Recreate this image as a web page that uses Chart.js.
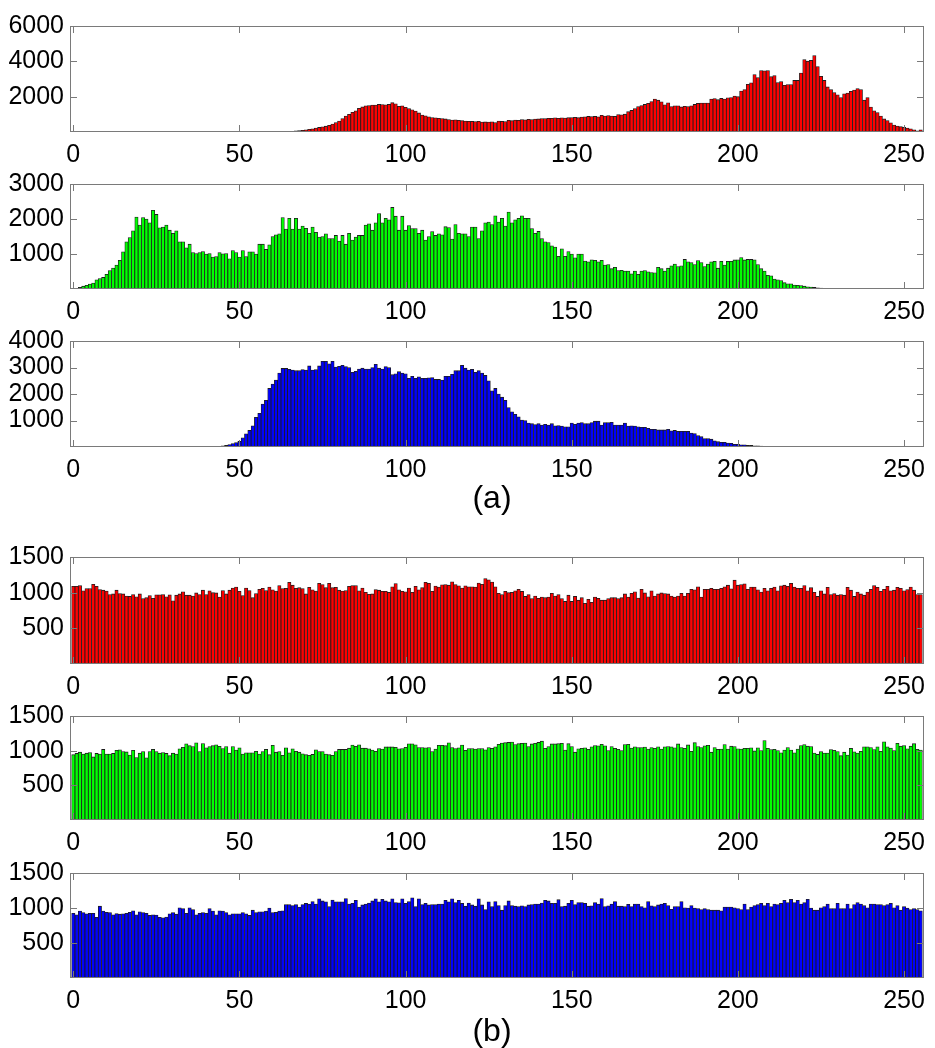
<!DOCTYPE html>
<html>
<head>
<meta charset="utf-8">
<script src="https://cdn.jsdelivr.net/npm/chart.js@4.4.1/dist/chart.umd.min.js"></script>
<style>
  body { margin: 0; background: #fff; width: 935px; height: 1048px; position: relative; overflow: hidden; }
  canvas { position: absolute; left: 0; }
  .cap { position: absolute; font-family: "Liberation Sans", Arial, sans-serif; font-size: 32px; color: #000; transform: translate(-50%, -50%); }
</style>
</head>
<body>
<canvas id="p1"></canvas>
<canvas id="p2"></canvas>
<canvas id="p3"></canvas>
<canvas id="p4"></canvas>
<canvas id="p5"></canvas>
<canvas id="p6"></canvas>
<div class="cap" style="left:492px;top:497px">(a)</div>
<div class="cap" style="left:492px;top:1030px">(b)</div>
<script>
// grey levels 0..255
const bins = Array.from({ length: 256 }, (_, i) => i);
const xTickValues = [0, 50, 100, 150, 200, 250];

// (a) original image histograms
const redA = [
  0,0,0,0,0,0,0,0,0,0,0,0,0,0,0,0,
  0,0,0,0,0,0,0,0,0,0,0,0,0,0,0,0,
  0,0,0,0,0,0,0,0,0,0,0,0,0,0,0,0,
  0,0,0,0,0,0,0,0,0,0,0,0,0,0,0,10,
  20,30,40,60,80,100,120,150,180,220,260,290,330,380,450,540,
  620,760,900,1000,1120,1200,1340,1420,1480,1500,1520,1530,1560,1550,1540,1560,
  1660,1600,1450,1480,1400,1330,1260,1180,1080,960,920,860,820,800,780,760,
  740,700,680,690,660,640,620,610,600,590,600,560,570,560,580,540,
  620,600,590,660,640,680,660,700,690,720,700,730,740,760,760,780,
  770,800,780,800,790,810,820,830,810,850,860,880,870,880,860,950,
  900,930,900,880,990,970,1010,1150,1220,1330,1440,1500,1560,1620,1720,1870,
  1800,1710,1540,1650,1440,1480,1480,1420,1460,1440,1480,1560,1620,1640,1640,1640,
  1860,1890,1830,1900,1860,1940,1950,2040,2000,2320,2400,2700,2780,3250,3080,3480,
  3460,3480,3130,3200,2800,2860,2640,2690,2680,2920,2920,3340,4100,4010,4050,4330,
  3700,3150,2920,2550,2400,2230,2100,1950,2160,2200,2300,2370,2460,2400,1800,1950,
  1415,1200,1100,900,740,650,520,390,340,300,260,220,180,120,70,120
];
const greenA = [
  0,10,45,80,107,140,170,260,300,330,420,525,600,685,820,1060,
  1350,1470,1660,2055,1825,2040,2000,1890,2250,2130,1750,1770,1825,1680,1590,1660,
  1350,1350,1175,1280,1040,1015,1040,1070,1000,1015,910,925,1040,1005,1015,865,
  1100,1040,910,1100,925,1060,1060,1000,1280,1280,1130,1260,1500,1550,1575,2040,
  1710,2020,1710,2020,1710,1800,1735,1590,1770,1620,1485,1500,1575,1440,1440,1530,
  1370,1530,1280,1590,1400,1485,1530,1530,1825,1860,1680,1890,2155,1890,2020,1975,
  2330,2080,1680,2080,1680,1815,1725,1725,1590,1680,1400,1500,1640,1530,1575,1550,
  1780,1755,1425,1840,1590,1575,1575,1500,1770,1770,1440,1660,1890,1910,1840,2090,
  1910,2020,1800,2200,1890,1975,2020,2090,2020,2020,1725,1590,1645,1440,1350,1325,
  1235,1200,935,1150,935,1070,1000,890,1000,1000,800,775,835,820,775,820,
  685,700,580,620,525,535,510,510,435,510,420,510,525,490,470,465,
  620,580,510,595,660,710,640,665,845,775,755,700,810,755,640,710,
  775,790,595,790,685,790,790,830,835,900,830,845,845,835,700,580,
  510,390,375,285,260,240,180,150,150,115,105,100,80,60,55,45,
  35,25,15,15,15,10,10,10,5,10,5,0,0,0,0,0,
  0,0,0,0,0,0,0,0,0,0,0,0,0,0,0,0
];
const blueA = [
  0,0,0,0,0,0,0,0,0,0,0,0,0,0,0,0,
  0,0,0,0,0,0,0,0,0,0,0,0,0,0,0,0,
  0,0,0,0,0,0,0,0,0,0,0,10,20,40,60,95,
  130,170,210,350,495,625,800,1120,1270,1620,1765,2210,2375,2530,2790,2965,
  2965,2930,2905,2880,2880,2920,2905,3060,2905,2920,3060,3235,3235,3140,3235,3020,
  3045,3080,3035,3000,2820,2860,2940,2975,2940,2940,3000,3120,2975,2940,3035,3000,
  2730,2765,2850,2790,2765,2590,2670,2590,2650,2590,2590,2610,2620,2550,2550,2530,
  2670,2670,2740,2880,2880,3080,2975,2905,2930,2820,2880,2790,2700,2500,2120,2210,
  2000,1880,1765,1490,1330,1235,1140,1020,1000,905,880,845,880,825,860,825,
  880,800,810,790,765,765,905,860,905,920,880,880,920,975,975,825,
  920,920,930,825,825,825,905,790,800,790,765,740,740,705,670,670,
  645,645,645,670,610,625,590,590,590,590,530,505,435,390,320,320,
  295,235,200,175,175,150,140,105,105,80,80,60,60,45,45,35,
  20,20,20,20,10,10,0,0,0,0,0,0,0,0,0,0,
  0,0,0,0,0,0,0,0,0,0,0,0,0,0,0,0,
  0,0,0,0,0,0,0,0,0,0,0,0,0,0,0,0
];

// (b) processed image histograms
const redB = [
  1088,1088,1100,1026,1057,1057,1118,1088,1044,1035,1022,974,982,1035,987,982,
  952,947,974,943,982,917,930,960,921,969,969,974,943,969,886,965,
  982,1013,965,965,952,996,974,1035,974,1026,1000,996,939,1031,982,1035,
  1066,1079,1018,960,1066,1031,930,987,1048,1061,1031,1079,1040,1022,1100,1057,
  1061,1145,1105,1061,1070,1057,982,1075,1040,1022,1131,1114,1070,1131,1070,1075,
  1035,1022,1031,1088,1100,1100,1026,1066,1004,978,982,1044,1035,1018,1018,1004,
  1083,1127,1040,1018,1013,1066,1004,1088,1040,1070,1145,1131,1018,1092,1079,1110,
  1114,1105,1153,1114,1096,1066,1096,1083,1083,1079,1136,1118,1197,1180,1149,1083,
  991,974,1018,1000,1004,1026,1048,1018,947,974,917,952,921,939,930,939,
  991,952,974,917,877,965,877,947,895,930,851,908,864,939,921,895,
  895,917,930,930,917,930,982,939,991,1013,925,1048,996,943,1026,952,
  982,996,987,982,952,939,952,991,952,991,1048,1040,1083,939,1048,1048,
  1061,1048,1048,1061,1083,1105,1053,1175,1105,1114,1123,1048,1079,1079,1040,1009,
  1061,1026,1061,1079,1026,1096,1105,1088,1131,1079,1061,1061,1100,1026,1070,1004,
  947,1026,982,1075,974,987,965,974,965,1075,1035,947,1009,982,965,1009,
  1048,1100,1075,1018,1048,1088,1026,1035,1075,1061,1026,1044,1079,1035,974,974
];
const greenB = [
  942,960,978,951,964,973,910,960,951,1018,951,951,960,1004,1013,987,
  982,937,1004,901,964,987,897,987,1018,987,964,973,960,928,964,951,
  1027,1049,1099,1072,1058,1112,987,1103,1040,1058,1072,1085,1063,1031,1058,964,
  1058,1009,1040,951,969,969,969,991,951,987,1018,942,1076,978,987,933,
  1040,969,1027,991,978,955,942,933,946,1013,987,987,951,942,933,987,
  1018,1018,1018,1036,1081,1063,1085,1036,1036,1027,1009,991,1031,1022,1054,1054,
  1054,1049,1027,1031,1049,1099,1099,1085,1045,1045,1040,1045,987,1022,1076,1076,
  1072,1112,1045,1031,1040,1081,1004,1031,1031,1022,1031,1031,1013,1045,1033,1055,
  1092,1110,1115,1119,1124,1087,1101,1106,1110,1060,1097,1106,1119,1137,1033,1060,
  1097,1097,1101,1106,1010,1101,1060,978,1028,1033,1042,1019,1055,1074,1069,1092,
  1069,1001,1060,1033,1019,1001,1087,1092,1037,1055,1046,1046,1051,1024,1046,1033,
  1055,1024,1055,1060,1055,1042,1097,1046,1033,1083,992,1115,1060,1046,1069,1078,
  978,1046,1019,1024,1087,1024,1065,1060,1028,1024,1033,1033,1042,996,1042,1001,
  1147,1033,1015,1019,1001,969,1010,1046,1010,969,1024,1074,1087,1065,1060,965,
  946,987,965,965,1015,1006,987,928,978,937,1033,983,965,992,1055,1055,
  1046,1015,1055,992,1128,1055,1037,1001,1106,1065,1074,1028,1065,1101,1019,1010
];
const blueB = [
  925,903,956,934,916,925,925,868,1026,956,938,934,903,921,912,916,
  925,938,960,903,947,934,925,894,903,899,868,859,872,916,934,912,
  1004,991,925,1004,978,903,925,934,925,991,956,903,960,956,934,903,
  916,916,916,934,916,894,969,934,947,947,956,1000,934,938,956,960,
  1048,1048,1035,1048,1013,1048,1066,1057,1092,1057,1132,1101,1088,1022,1114,1088,
  1088,1088,1136,1057,1066,1110,1013,1044,1057,1070,1101,1132,1088,1123,1101,1088,
  1132,1079,1075,1132,1066,1092,1145,1022,1132,1048,1066,1044,1048,1048,1057,1057,
  1110,1088,1132,1079,1110,1066,1026,1070,1044,1026,1132,1044,978,1088,1022,1092,
  1035,969,1035,1101,1035,1026,1022,1031,1022,1044,1048,1057,1057,1070,1110,1101,
  1066,1066,1119,1022,1026,1066,1110,1048,1079,1079,1066,1026,1031,1079,1057,1136,
  1022,1031,1057,1092,1026,1026,1022,1053,1022,1057,1057,1022,1004,1092,1031,1022,
  1044,1057,1066,1035,982,1022,1022,1092,1004,1000,1035,1000,991,978,991,978,
  969,969,969,960,1013,1013,1013,1004,991,978,1057,978,1013,1035,1048,1066,
  1035,1066,1022,1057,1048,1066,1110,1079,1123,1079,1110,1057,1079,1123,1000,969,
  969,1004,1022,1057,991,991,1066,991,991,1057,991,1048,1079,1057,1035,1004,
  1057,1057,1048,1048,1035,1048,1066,1004,1035,969,1022,1000,978,991,978,960
];

const yTicksRedA = [2000, 4000, 6000];
const yTicksGreenA = [1000, 2000, 3000];
const yTicksBlueA = [1000, 2000, 3000, 4000];
const yTicksB = [500, 1000, 1500];

const PAD_TOP = 14;
const X_AXIS_H = 40;
const tickFont = { family: "'Liberation Sans', Arial, sans-serif", size: 25 };

// matlab style box with inward ticks on all four sides
const boxTicks = {
  id: 'boxTicks',
  afterDatasetsDraw(chart) {
    const { ctx, chartArea: a, scales } = chart;
    const len = 7;
    ctx.save();
    ctx.strokeStyle = '#7a7a7a';
    ctx.lineWidth = 1;
    ctx.beginPath();
    scales.x.ticks.forEach(t => {
      const px = Math.round(scales.x.getPixelForValue(t.value)) + 0.5;
      ctx.moveTo(px, a.bottom); ctx.lineTo(px, a.bottom - len);
      ctx.moveTo(px, a.top); ctx.lineTo(px, a.top + len);
    });
    scales.y.ticks.forEach(t => {
      const py = Math.round(scales.y.getPixelForValue(t.value)) + 0.5;
      ctx.moveTo(a.left, py); ctx.lineTo(a.left + len, py);
      ctx.moveTo(a.right, py); ctx.lineTo(a.right - len, py);
    });
    ctx.stroke();
    ctx.strokeRect(Math.round(a.left) + 0.5, Math.round(a.top) + 0.5,
                   Math.round(a.width) - 1, Math.round(a.height) - 1);
    ctx.restore();
  }
};

function makePanel(id, values, color, yMax, yTicks, plotTop, plotH) {
  const cv = document.getElementById(id);
  cv.width = 935;
  cv.height = PAD_TOP + plotH + X_AXIS_H;
  cv.style.top = (plotTop - PAD_TOP) + 'px';

  return new Chart(cv.getContext('2d'), {
    type: 'bar',
    data: {
      datasets: [{
        data: values.map((v, i) => ({ x: bins[i], y: v })),
        backgroundColor: color,
        borderColor: '#1c1c1c',
        borderWidth: 0.8,
        borderSkipped: 'start',
        barPercentage: 1,
        categoryPercentage: 1
      }]
    },
    options: {
      responsive: false,
      animation: false,
      devicePixelRatio: 1,
      layout: { padding: { top: PAD_TOP, right: 11, left: 0, bottom: 0 } },
      plugins: { legend: { display: false }, tooltip: { enabled: false } },
      scales: {
        x: {
          type: 'linear',
          min: -1,
          max: 256,
          offset: false,
          grid: { display: false, drawTicks: false, offset: false },
          border: { display: false },
          afterBuildTicks: s => { s.ticks = xTickValues.map(v => ({ value: v })); },
          afterFit: s => { s.height = X_AXIS_H; },
          ticks: { font: tickFont, color: '#000', padding: 8, maxRotation: 0, autoSkip: false,
                   callback: v => String(v) }
        },
        y: {
          min: 0,
          max: yMax,
          grid: { display: false, drawTicks: false },
          border: { display: false },
          afterBuildTicks: s => { s.ticks = yTicks.map(v => ({ value: v })); },
          afterFit: s => { s.width = 70; },
          ticks: { font: tickFont, color: '#000', padding: 6, callback: v => String(v) }
        }
      }
    },
    plugins: [boxTicks]
  });
}

makePanel('p1', redA, '#ff0000', 6000, yTicksRedA, 18.7, 113.3);
makePanel('p2', greenA, '#00ff00', 3000, yTicksGreenA, 176.7, 112.3);
makePanel('p3', blueA, '#0000ff', 4000, yTicksBlueA, 333.7, 113.3);
makePanel('p4', redB, '#ff0000', 1500, yTicksB, 550, 114);
makePanel('p5', greenB, '#00ff00', 1500, yTicksB, 708.5, 111.5);
makePanel('p6', blueB, '#0000ff', 1500, yTicksB, 865.5, 112.5);
</script>
</body>
</html>
